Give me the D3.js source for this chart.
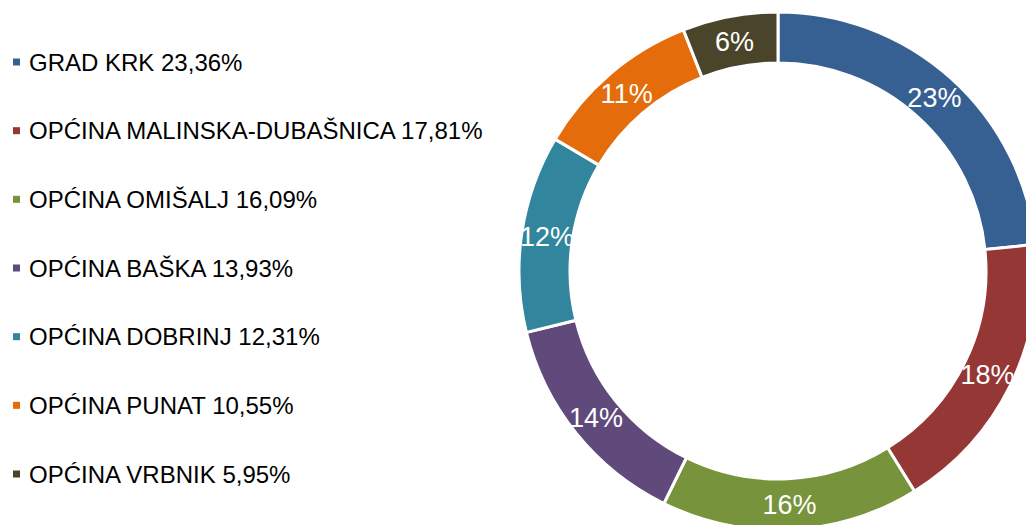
<!DOCTYPE html>
<html>
<head>
<meta charset="utf-8">
<script src="https://cdn.jsdelivr.net/npm/d3@7"></script>
<style>
	html, body { margin: 0; padding: 0; background: #fff; }
	svg { display: block; }
</style>
</head>
<body>
<svg id="chart" width="1026" height="525"></svg>
<script>
// municipalities share, in order of the ring (clockwise from top)
var categories = ["GRAD KRK", "OPĆINA MALINSKA-DUBAŠNICA", "OPĆINA OMIŠALJ", "OPĆINA BAŠKA", "OPĆINA DOBRINJ", "OPĆINA PUNAT", "OPĆINA VRBNIK"]
var values = [23.36, 17.81, 16.09, 13.93, 12.31, 10.55, 5.95]
var legendLabels = ["23,36%", "17,81%", "16,09%", "13,93%", "12,31%", "10,55%", "5,95%"]
var colors = ["#376092", "#953735", "#77933C", "#604A7B", "#31859C", "#E46C0A", "#4A452A"]

var svg = d3.select("#chart")
var font = "Liberation Sans, Arial, sans-serif"

var cx = 778, cy = 271
var outerR = 259, innerR = 208

var pie = d3.pie()
	.sort(null)
	.value(function(d){ return d })
	.startAngle(0)
	.endAngle(2 * Math.PI)

var arc = d3.arc()
	.innerRadius(innerR)
	.outerRadius(outerR)

var labelArc = d3.arc()
	.innerRadius((innerR + outerR) / 2)
	.outerRadius((innerR + outerR) / 2)

var colorScale = d3.scaleOrdinal().domain(categories).range(colors)

var ring = svg.append("g")
	.attr("transform", "translate(" + cx + "," + cy + ")")

var slices = pie(values)

ring.selectAll("path")
	.data(slices)
	.enter()
	.append("path")
	.attr("d", arc)
	.attr("fill", function(d, i){ return colorScale(categories[i]) })
	.attr("stroke", "#fff")
	.attr("stroke-width", 3)
	.attr("stroke-linejoin", "miter")

ring.selectAll("text")
	.data(slices)
	.enter()
	.append("text")
	.attr("transform", function(d){ return "translate(" + labelArc.centroid(d) + ")" })
	.attr("text-anchor", "middle")
	.attr("dy", "0.36em")
	.attr("fill", "#fff")
	.style("font-family", font)
	.style("font-size", "27px")
	.text(function(d){ return Math.round(d.data) + "%" })

// legend down the left side
var legendY = d3.scalePoint()
	.domain(categories)
	.range([62, 474])

var legend = svg.append("g")
	.selectAll("g")
	.data(categories)
	.enter()
	.append("g")
	.attr("transform", function(d){ return "translate(0," + legendY(d) + ")" })

legend.append("rect")
	.attr("x", 13)
	.attr("y", -3.5)
	.attr("width", 7)
	.attr("height", 7)
	.attr("fill", function(d){ return colorScale(d) })

legend.append("text")
	.attr("x", 29)
	.attr("dy", "0.36em")
	.attr("fill", "#000")
	.style("font-family", font)
	.style("font-size", "24px")
	.text(function(d, i){ return d + " " + legendLabels[i] })
</script>
</body>
</html>
